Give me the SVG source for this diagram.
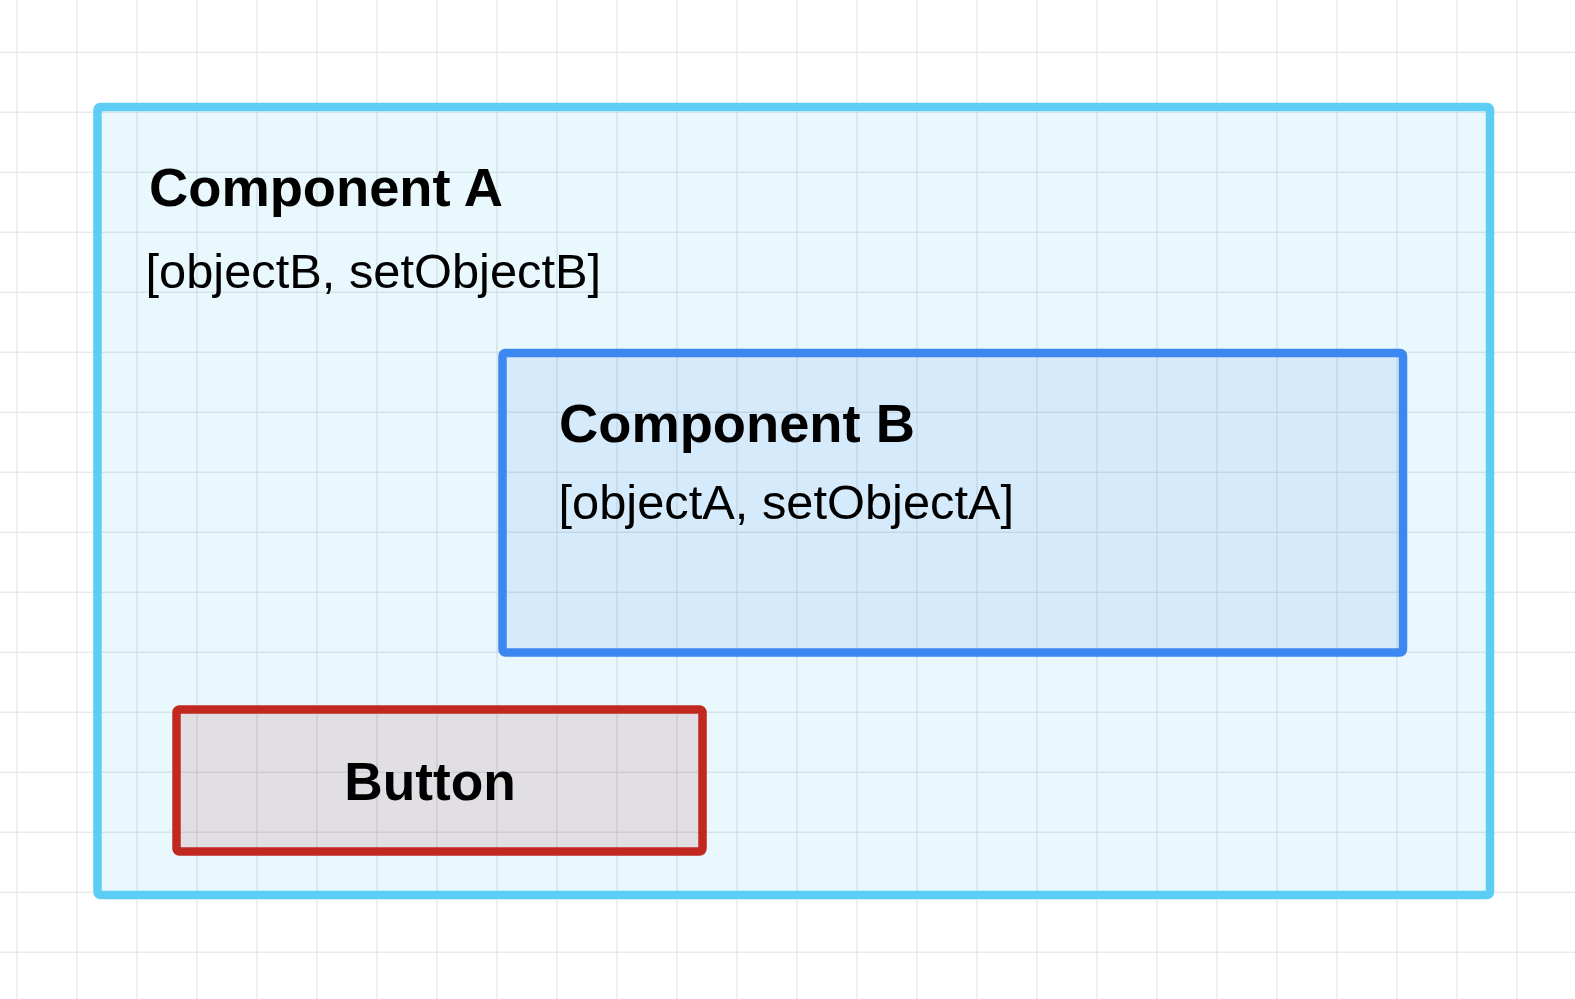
<svg xmlns="http://www.w3.org/2000/svg" width="1575" height="999" viewBox="0 0 1575 999">
<defs>
<pattern id="grid" x="16.5" y="51.7" width="60" height="60" patternUnits="userSpaceOnUse">
<path d="M0 0V60M0 0H60" fill="none" stroke="rgba(0,0,0,0.12)" stroke-width="2"/>
</pattern>
</defs>
<style>
.title{font-family:"Liberation Sans",Arial,sans-serif;font-weight:bold;font-size:54.3px;fill:#000}
.btn{font-family:"Liberation Sans",Arial,sans-serif;font-weight:bold;font-size:53.3px;fill:#000}
.sub{font-family:"Liberation Sans",Arial,sans-serif;font-size:48.8px;fill:#000}
.box{stroke-width:8.5;stroke-linejoin:round}
</style>
<rect width="1575" height="999" fill="#ffffff"/>
<g id="componentA-fill"><rect x="97.5" y="107" width="1392.5" height="788" rx="3" fill="#e8f8fd"/></g>
<g id="componentB-fill"><rect x="502.5" y="353" width="900.5" height="299.5" rx="3" fill="#d5eafa"/></g>
<g id="button-fill"><rect x="176.5" y="709.5" width="526" height="142" rx="3" fill="#e1dfe4"/></g>
<rect width="1575" height="999" fill="url(#grid)"/>
<g id="componentA">
<rect class="box" x="97.5" y="107" width="1392.5" height="788" rx="3" fill="none" stroke="#5ccef5"/>
<text class="title" x="149" y="206">Component A</text>
<text class="sub" x="145.5" y="288">[objectB, setObjectB]</text>
</g>
<g id="componentB">
<rect class="box" x="502.5" y="353" width="900.5" height="299.5" rx="3" fill="none" stroke="#3c87f0"/>
<text class="title" x="559" y="442">Component B</text>
<text class="sub" x="558.5" y="519">[objectA, setObjectA]</text>
</g>
<g id="button">
<rect class="box" x="176.5" y="709.5" width="526" height="142" rx="3" fill="none" stroke="#c1281f"/>
<text class="btn" x="430" y="800" text-anchor="middle">Button</text>
</g>
<g id="connectors"/>
</svg>
